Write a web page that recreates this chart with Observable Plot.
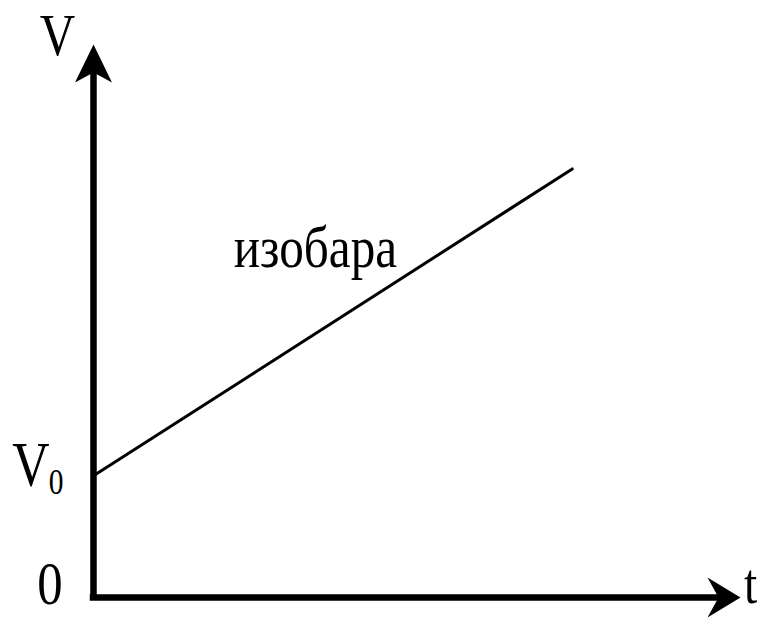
<!DOCTYPE html>
<html>
<head>
<meta charset="utf-8">
<script src="https://cdn.jsdelivr.net/npm/d3@7"></script>
<script src="https://cdn.jsdelivr.net/npm/@observablehq/plot@0.6"></script>
<style>
  html, body { margin: 0; padding: 0; background: #fff; }
  svg { display: block; }
</style>
</head>
<body>
<div id="chart"></div>
<script>
// Isobar: volume V versus temperature t
const tValues = [0, 7.4];          // t along the isobar
const vValues = [2.2, 7.75];       // V along the isobar (starts at V0)
const tDomain = [0, 10];
const vDomain = [0, 10];
const v0 = 2.2;
const curveLabel = "изобара";
const xAxisLabel = "t";
const yAxisLabel = "V";
const originLabel = "0";
const v0Label = "V";
const v0Sub = "0";

const isobar = tValues.map((t, i) => ({t, V: vValues[i]}));

const arrowUp = {draw(ctx) {
  ctx.moveTo(0, 0); ctx.lineTo(-18.5, 38); ctx.lineTo(0, 28); ctx.lineTo(18.5, 38); ctx.closePath();
}};
const arrowRight = {draw(ctx) {
  ctx.moveTo(0, 0); ctx.lineTo(-33, -20); ctx.lineTo(-22, 0); ctx.lineTo(-33, 20); ctx.closePath();
}};

const font = "'Liberation Serif', 'Times New Roman', serif";

const chart = Plot.plot({
  width: 760,
  height: 619,
  marginLeft: 93,
  marginRight: 20,
  marginTop: 44,
  marginBottom: 22,
  x: {domain: tDomain, axis: null},
  y: {domain: vDomain, axis: null},
  style: {fontFamily: font, background: "#fff", color: "#000", overflow: "visible"},
  marks: [
    // axes shafts
    Plot.ruleX([tDomain[0]], {y1: vDomain[0], y2: 9.55, stroke: "#000", strokeWidth: 6.5, strokeLinecap: "butt"}),
    Plot.ruleY([vDomain[0]], {x1: -0.05, x2: 9.7, stroke: "#000", strokeWidth: 6.5, strokeLinecap: "butt"}),
    // arrowheads
    Plot.dot([{t: tDomain[0], V: vDomain[1]}], {x: "t", y: "V", symbol: arrowUp, r: 5, fill: "#000", stroke: null}),
    Plot.dot([{t: tDomain[1], V: vDomain[0]}], {x: "t", y: "V", symbol: arrowRight, r: 5, fill: "#000", stroke: null}),
    // isobar line
    Plot.line(isobar, {x: "t", y: "V", stroke: "#000", strokeWidth: 3}),
    // labels
    Plot.text([yAxisLabel], {x: tDomain[0], y: vDomain[1], text: d => d, dx: -36, dy: 10, fontSize: 60, textAnchor: "middle", lineAnchor: "bottom", fill: "#000"}),
    Plot.text([xAxisLabel], {x: tDomain[1], y: vDomain[0], text: d => d, dx: 10, dy: 5, fontSize: 58, textAnchor: "middle", lineAnchor: "bottom", fill: "#000"}),
    Plot.text([originLabel], {x: tDomain[0], y: vDomain[0], text: d => d, dx: -43.5, dy: 6, fontSize: 62, textAnchor: "middle", lineAnchor: "bottom", fill: "#000"}),
    Plot.text([v0Label], {x: tDomain[0], y: v0, text: d => d, dx: -62.5, dy: 10, fontSize: 63, textAnchor: "middle", lineAnchor: "bottom", fill: "#000"}),
    Plot.text([v0Sub], {x: tDomain[0], y: v0, text: d => d, dx: -37.5, dy: 18, fontSize: 36, textAnchor: "middle", lineAnchor: "bottom", fill: "#000"}),
    Plot.text([curveLabel], {x: 3.43, y: 5.97, text: d => d, fontSize: 60, textAnchor: "middle", lineAnchor: "bottom", fill: "#000"})
  ]
});

// the reference typeface is slightly condensed horizontally
chart.querySelectorAll("text").forEach(el => {
  const tr = el.getAttribute("transform") || "";
  el.setAttribute("transform", tr + " scale(0.82,1)");
});

document.getElementById("chart").appendChild(chart);
</script>
</body>
</html>
